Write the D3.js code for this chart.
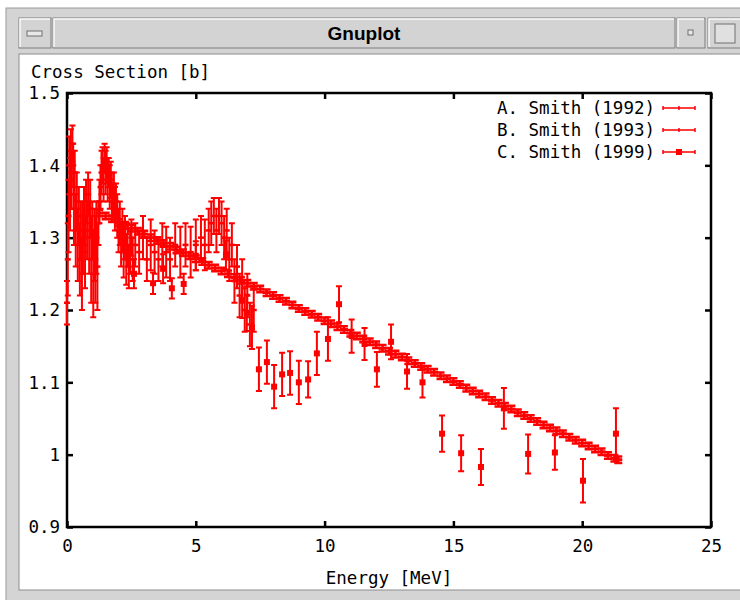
<!DOCTYPE html>
<html>
<head>
<meta charset="utf-8">
<script src="https://cdn.jsdelivr.net/npm/d3@7"></script>
<style>
  body { margin: 0; background: #fff; }
  svg text { font-family: "DejaVu Sans Mono", "Liberation Mono", monospace; }
</style>
</head>
<body>
<div class="infographic"></div>
<script>
var seriesNames = ["A. Smith (1992)", "B. Smith (1993)", "C. Smith (1999)"];

// A. Smith (1992) - dense low energy data + resonance bump near 6 MeV
var aEnergy = [0.00,0.03,0.06,0.09,0.12,0.15,0.18,0.21,0.24,0.27,0.30,0.34,0.38,0.42,0.46,0.50,0.54,0.58,0.62,0.66,
  0.70,0.74,0.78,0.82,0.86,0.90,0.94,0.98,1.02,1.06,1.10,1.14,1.18,1.22,1.26,1.30,1.34,1.38,1.42,1.46,
  1.50,1.54,1.58,1.62,1.66,1.70,1.74,1.78,1.82,1.86,1.90,1.95,2.00,2.05,2.10,2.15,2.20,2.25,2.30,2.35,
  2.40,2.45,2.50,2.55,2.65,2.80,2.95,3.10,3.25,3.40,3.55,3.70,3.85,4.00,4.20,4.40,4.60,4.80,5.00,5.20,
  5.35,5.50,5.60,5.70,5.80,5.90,6.00,6.10,6.20,6.30,6.40,6.50,6.60,6.70,6.80,6.90,7.00,7.10,7.25];
var aValue = [1.21,1.27,1.33,1.40,1.36,1.42,1.38,1.43,1.40,1.34,1.39,1.31,1.35,1.29,1.33,1.27,1.31,1.25,1.30,1.33,
  1.28,1.35,1.31,1.36,1.30,1.34,1.27,1.31,1.25,1.29,1.27,1.30,1.26,1.32,1.35,1.37,1.39,1.40,1.38,1.41,
  1.39,1.40,1.38,1.39,1.37,1.38,1.36,1.35,1.36,1.34,1.35,1.33,1.31,1.32,1.29,1.31,1.28,1.30,1.27,1.29,
  1.26,1.28,1.30,1.27,1.29,1.28,1.30,1.27,1.29,1.28,1.27,1.29,1.28,1.27,1.29,1.28,1.29,1.28,1.29,1.30,
  1.29,1.31,1.32,1.33,1.31,1.33,1.32,1.30,1.31,1.27,1.29,1.24,1.26,1.22,1.24,1.20,1.22,1.18,1.20];
var aError = [0.03,0.05,0.05,0.04,0.05,0.03,0.04,0.025,0.03,0.05,0.03,0.05,0.04,0.05,0.04,0.05,0.04,0.05,0.05,0.04,
  0.05,0.03,0.04,0.03,0.05,0.04,0.06,0.04,0.06,0.05,0.06,0.05,0.06,0.03,0.03,0.03,0.03,0.025,0.03,0.02,
  0.03,0.025,0.03,0.02,0.03,0.025,0.03,0.025,0.03,0.03,0.025,0.03,0.03,0.03,0.03,0.03,0.035,0.03,0.035,0.03,
  0.03,0.03,0.025,0.03,0.03,0.03,0.03,0.03,0.035,0.03,0.03,0.03,0.035,0.03,0.03,0.035,0.03,0.035,0.035,0.03,
  0.035,0.03,0.03,0.025,0.03,0.025,0.03,0.03,0.03,0.03,0.03,0.03,0.03,0.03,0.03,0.03,0.03,0.03,0.03];

// B. Smith (1993) - smooth falling data
var bEnergy = [1.25,1.50,1.75,2.00,2.25,2.50,2.75,3.00,3.25,3.50,3.75,4.00,4.25,4.50,4.75,5.00,5.25,5.50,5.75,6.00,
  6.25,6.50,6.75,7.00,7.25,7.50,7.75,8.00,8.25,8.50,8.75,9.00,9.25,9.50,9.75,10.00,10.25,10.50,10.75,11.00,
  11.25,11.50,11.75,12.00,12.25,12.50,12.75,13.00,13.25,13.50,13.75,14.00,14.25,14.50,14.75,15.00,15.25,15.50,15.75,16.00,
  16.25,16.50,16.75,17.00,17.25,17.50,17.75,18.00,18.25,18.50,18.75,19.00,19.25,19.50,19.75,20.00,20.25,20.50,20.75,21.00,
  21.25,21.40];
var bValue = [1.334,1.330,1.326,1.321,1.317,1.313,1.309,1.305,1.300,1.296,1.292,1.288,1.283,1.279,1.275,1.271,1.267,1.262,1.258,1.254,
  1.250,1.245,1.241,1.237,1.233,1.229,1.224,1.220,1.216,1.212,1.207,1.202,1.198,1.194,1.190,1.185,1.181,1.177,1.173,1.168,
  1.164,1.160,1.156,1.152,1.147,1.143,1.139,1.135,1.130,1.126,1.122,1.118,1.114,1.109,1.105,1.101,1.097,1.092,1.088,1.084,
  1.080,1.075,1.071,1.067,1.063,1.058,1.054,1.050,1.046,1.041,1.037,1.033,1.029,1.024,1.020,1.016,1.012,1.008,1.004,0.999,
  0.995,0.993];
var bError = 0.0045;

// C. Smith (1999)
var cEnergy = [2.60,3.34,3.73,4.07,4.53,5.00,6.17,6.80,6.98,7.18,7.45,7.76,8.04,8.35,8.66,9.00,9.36,9.70,10.13,10.56,
  11.05,11.55,12.03,12.58,13.20,13.80,14.56,15.30,16.07,16.96,17.90,18.94,20.03,21.31];
var cValue = [1.250,1.237,1.257,1.230,1.236,1.275,1.276,1.214,1.196,1.176,1.118,1.128,1.094,1.111,1.113,1.100,1.104,1.140,1.160,1.208,
  1.164,1.153,1.118,1.156,1.115,1.100,1.029,1.002,0.983,1.064,1.001,1.003,0.964,1.029];
var cError = [0.02,0.015,0.02,0.014,0.014,0.02,0.02,0.025,0.025,0.03,0.03,0.03,0.03,0.03,0.03,0.03,0.025,0.03,0.03,0.025,
  0.023,0.022,0.024,0.024,0.024,0.021,0.025,0.025,0.025,0.028,0.027,0.024,0.03,0.035];

var xTicks = [0, 5, 10, 15, 20, 25];
var xTickLabels = ["0", "5", "10", "15", "20", "25"];
var yTicks = [0.9, 1.0, 1.1, 1.2, 1.3, 1.4, 1.5];
var yTickLabels = ["0.9", "1", "1.1", "1.2", "1.3", "1.4", "1.5"];

var W = 740, H = 600;
var plot = {left: 67, right: 711, top: 93, bottom: 527};

var svg = d3.select(".infographic")
            .append("svg")
            .attr("width", W)
            .attr("height", H);

// ---- window chrome (X11 frame) ----
var chrome = svg.append("g").attr("class", "chrome");
chrome.append("rect").attr("x", 6).attr("y", 8).attr("width", W).attr("height", H)
  .attr("fill", "#d4d4d4").attr("stroke", "#9a9a9a");
chrome.append("rect").attr("x", 19).attr("y", 54).attr("width", W).attr("height", 536)
  .attr("fill", "#fff").attr("stroke", "#8c8c8c");

function bevel(x0, y0, w, h) {
  chrome.append("rect").attr("x", x0).attr("y", y0).attr("width", w).attr("height", h)
    .attr("fill", "#d3d3d3").attr("stroke", "#7d7d7d");
  chrome.append("path").attr("d", "M" + (x0 + 1) + "," + (y0 + h - 1) + "V" + (y0 + 1) + "H" + (x0 + w - 1))
    .attr("stroke", "#fafafa").attr("stroke-width", 1.5).attr("fill", "none");
}
bevel(19, 18, 32, 30);
bevel(53, 18, 622, 30);
bevel(677, 18, 28, 30);
bevel(708, 18, 40, 30);
chrome.append("rect").attr("x", 27).attr("y", 31).attr("width", 15).attr("height", 5)
  .attr("fill", "#e8e8e8").attr("stroke", "#707070");
chrome.append("rect").attr("x", 688).attr("y", 30).attr("width", 5).attr("height", 5)
  .attr("fill", "#e8e8e8").attr("stroke", "#707070");
chrome.append("rect").attr("x", 715).attr("y", 24).attr("width", 20).attr("height", 19)
  .attr("fill", "#e0e0e0").attr("stroke", "#707070");
chrome.append("text").attr("x", 364).attr("y", 40)
  .attr("text-anchor", "middle")
  .style("font-family", "'Liberation Sans', Arial, sans-serif")
  .style("font-weight", "bold").style("font-size", "19px")
  .text("Gnuplot");

// ---- scales / axes ----
var x = d3.scaleLinear().domain([0, 25]).range([plot.left, plot.right]);
var y = d3.scaleLinear().domain([0.9, 1.5]).range([plot.bottom, plot.top]);

var fontSize = "17.5px";

var xAxis = svg.append("g").attr("transform", "translate(0," + plot.bottom + ")")
  .call(d3.axisBottom(x).tickValues(xTicks).tickSize(-6).tickPadding(13)
    .tickFormat(function(d, i) { return xTickLabels[i]; }));
var yAxis = svg.append("g").attr("transform", "translate(" + plot.left + ",0)")
  .call(d3.axisLeft(y).tickValues(yTicks).tickSize(-6).tickPadding(7)
    .tickFormat(function(d, i) { return yTickLabels[i]; }));
var xTop = svg.append("g").attr("transform", "translate(0," + plot.top + ")")
  .call(d3.axisTop(x).tickValues(xTicks).tickSize(-6).tickFormat(""));
var yRight = svg.append("g").attr("transform", "translate(" + plot.right + ",0)")
  .call(d3.axisRight(y).tickValues(yTicks).tickSize(-6).tickFormat(""));

[xAxis, yAxis, xTop, yRight].forEach(function(a) {
  a.select(".domain").remove();
  a.selectAll("line").attr("stroke", "#000").attr("stroke-width", 2.5);
  a.selectAll("text").attr("fill", "#000")
    .style("font-family", "'DejaVu Sans Mono', monospace").style("font-size", fontSize);
});
yAxis.selectAll("text").attr("dy", "0.34em");

svg.append("rect")
  .attr("x", plot.left).attr("y", plot.top)
  .attr("width", plot.right - plot.left).attr("height", plot.bottom - plot.top)
  .attr("fill", "none").attr("stroke", "#000").attr("stroke-width", 2.5);

svg.append("text").attr("x", 31).attr("y", 78)
  .style("font-size", fontSize).text("Cross Section [b]");
svg.append("text").attr("x", (plot.left + plot.right) / 2).attr("y", 584)
  .attr("text-anchor", "middle")
  .style("font-size", fontSize).text("Energy [MeV]");

// ---- error bars ----
function toPoints(en, val, err) {
  return en.map(function(e, i) {
    return {e: e, v: val[i], d: Array.isArray(err) ? err[i] : err};
  });
}

function barPath(cap) {
  return function(d) {
    var cx = x(d.e), y0 = y(d.v - d.d), y1 = y(d.v + d.d);
    return "M" + cx + "," + y0 + "V" + y1 +
           "M" + (cx - cap) + "," + y0 + "h" + (2 * cap) +
           "M" + (cx - cap) + "," + y1 + "h" + (2 * cap);
  };
}

function drawSeries(cls, pts, marker, cap, sw) {
  var g = svg.append("g").attr("class", cls);
  g.selectAll("path.bar")
    .data(pts)
    .enter().append("path")
    .attr("class", "bar")
    .attr("d", barPath(cap))
    .attr("fill", "none")
    .attr("stroke", "#ff0000")
    .attr("stroke-width", sw);
  if (marker === "square") {
    g.selectAll("rect.pt")
      .data(pts)
      .enter().append("rect")
      .attr("class", "pt")
      .attr("x", function(d) { return x(d.e) - 3; })
      .attr("y", function(d) { return y(d.v) - 3; })
      .attr("width", 6).attr("height", 6)
      .attr("fill", "#ff0000");
  } else {
    g.selectAll("path.pt")
      .data(pts)
      .enter().append("path")
      .attr("class", "pt")
      .attr("d", function(d) { return "M" + (x(d.e) - cap) + "," + y(d.v) + "h" + (2 * cap); })
      .attr("stroke", "#ff0000").attr("stroke-width", sw + 0.5);
  }
}

drawSeries("series-a", toPoints(aEnergy, aValue, aError), "plus", 3, 2);
drawSeries("series-b", toPoints(bEnergy, bValue, bError), "plus", 4, 2.5);
drawSeries("series-c", toPoints(cEnergy, cValue, cError), "square", 3, 2);

// ---- legend ----
var legend = svg.append("g").attr("class", "legend");
seriesNames.forEach(function(name, i) {
  var ly = 108 + i * 22;
  legend.append("text")
    .attr("x", 655).attr("y", ly).attr("dy", "0.35em")
    .attr("text-anchor", "end")
    .style("font-size", fontSize)
    .text(name);
  legend.append("path")
    .attr("d", "M663," + ly + "H695M663," + (ly - 2) + "v4M695," + (ly - 2) + "v4")
    .attr("stroke", "#ff0000").attr("stroke-width", 1.5).attr("fill", "none");
  if (i === 2) {
    legend.append("rect").attr("x", 676).attr("y", ly - 3).attr("width", 6).attr("height", 6)
      .attr("fill", "#ff0000");
  } else {
    legend.append("path").attr("d", "M679," + (ly - 2) + "v4")
      .attr("stroke", "#ff0000").attr("stroke-width", 1.5);
  }
});
</script>
</body>
</html>
